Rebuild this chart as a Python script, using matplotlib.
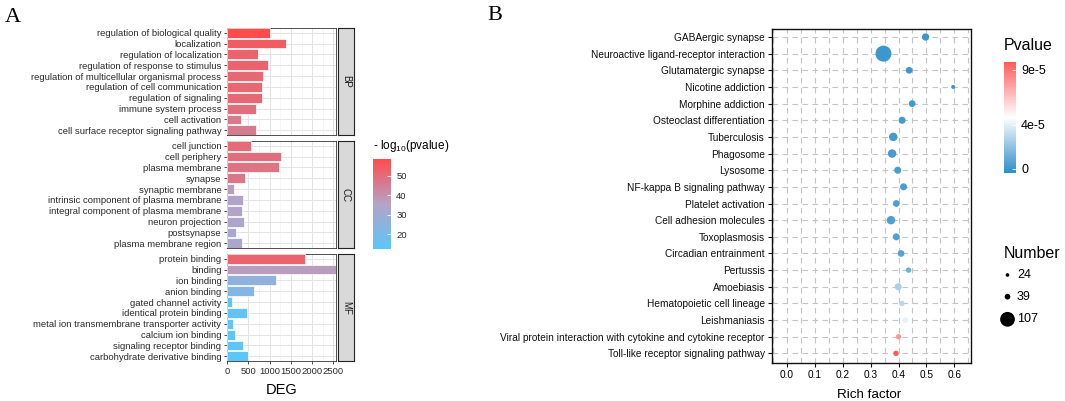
import matplotlib
matplotlib.use("Agg")
import matplotlib.pyplot as plt
import numpy as np
from matplotlib.colors import LinearSegmentedColormap, Normalize
from matplotlib.cm import ScalarMappable
from matplotlib.ticker import MultipleLocator, FormatStrFormatter

plt.rcParams['font.family'] = ['Liberation Sans', 'DejaVu Sans']
plt.rcParams['mathtext.default'] = 'regular'

# ---------------- Data: panel A (GO) ----------------
bp_terms = ["regulation of biological quality", "localization", "regulation of localization",
            "regulation of response to stimulus", "regulation of multicellular organismal process",
            "regulation of cell communication", "regulation of signaling", "immune system process",
            "cell activation", "cell surface receptor signaling pathway"]
bp_deg = [1000, 1375, 735, 953, 836, 828, 828, 672, 336, 680]
bp_logp = [58, 54, 52, 52, 51, 51, 51, 49, 46, 46]

cc_terms = ["cell junction", "cell periphery", "plasma membrane", "synapse", "synaptic membrane",
            "intrinsic component of plasma membrane", "integral component of plasma membrane",
            "neuron projection", "postsynapse", "plasma membrane region"]
cc_deg = [563, 1266, 1227, 422, 164, 383, 359, 398, 219, 352]
cc_logp = [50, 49, 48, 47, 37, 35, 35, 34, 33, 33]

mf_terms = ["protein binding", "binding", "ion binding", "anion binding", "gated channel activity",
            "identical protein binding", "metal ion transmembrane transporter activity",
            "calcium ion binding", "signaling receptor binding", "carbohydrate derivative binding"]
mf_deg = [1828, 2560, 1148, 641, 117, 461, 133, 188, 367, 492]
mf_logp = [52, 37, 26, 23, 14, 15, 14, 14, 14, 13]

facet_labels = ["BP", "CC", "MF"]
go_xticks = [0, 500, 1000, 1500, 2000, 2500]
go_cbar_ticks = [20, 30, 40, 50]

# ---------------- Data: panel B (KEGG) ----------------
kegg_terms = ["GABAergic synapse", "Neuroactive ligand-receptor interaction", "Glutamatergic synapse",
              "Nicotine addiction", "Morphine addiction", "Osteoclast differentiation", "Tuberculosis",
              "Phagosome", "Lysosome", "NF-kappa B signaling pathway", "Platelet activation",
              "Cell adhesion molecules", "Toxoplasmosis", "Circadian entrainment", "Pertussis",
              "Amoebiasis", "Hematopoietic cell lineage", "Leishmaniasis",
              "Viral protein interaction with cytokine and cytokine receptor",
              "Toll-like receptor signaling pathway"]
rich = [0.497, 0.346, 0.438, 0.596, 0.449, 0.413, 0.381, 0.377, 0.397, 0.418,
        0.392, 0.373, 0.392, 0.409, 0.436, 0.399, 0.412, 0.425, 0.400, 0.391]
pvals = [2.1e-8, 1.5e-10, 3.5e-7, 6.2e-7, 9.4e-7, 1.8e-6, 2.2e-6, 2.5e-6, 3.1e-6, 3.6e-6,
         4.2e-6, 4.5e-6, 5.0e-6, 6.0e-6, 1.2e-5, 2.6e-5, 3.0e-5, 4.1e-5, 7.8e-5, 9.7e-5]
numbers = [47, 107, 43, 24, 43, 45, 55, 55, 45, 45, 43, 55, 45, 43, 34, 45, 34, 34, 34, 34]
rich_ticks = [0.0, 0.1, 0.2, 0.3, 0.4, 0.5, 0.6]
p_ticks = [0, 4e-5, 9e-5]
p_tick_labels = ["0", "4e-5", "9e-5"]
size_breaks = [24, 39, 107]

# ---------------- Layout helpers ----------------
W, H = 1065, 401
fig = plt.figure(figsize=(W / 100, H / 100), dpi=100)


def box(x0, y0, x1, y1):
    return [x0 / W, 1 - y1 / H, (x1 - x0) / W, (y1 - y0) / H]


def px(x, y):
    return x / W, 1 - y / H


# ---------------- Panel A ----------------
go_cmap = LinearSegmentedColormap.from_list("go", ["#5BC6FA", "#B4A3C7", "#FF4B4B"])
go_norm = Normalize(12.5, 58.4)

facets = [(bp_terms, bp_deg, bp_logp, 28, 135),
          (cc_terms, cc_deg, cc_logp, 141, 248),
          (mf_terms, mf_deg, mf_logp, 254, 361)]
text_col = "#2B2B2B"
for i, (terms, deg, logp, y0, y1) in enumerate(facets):
    ax = fig.add_axes(box(227, y0, 336, y1))
    n = len(terms)
    pos = np.arange(n)
    ax.barh(pos, deg, height=0.9, color=go_cmap(go_norm(np.array(logp))),
            edgecolor="white", linewidth=0.5, zorder=3)
    ax.set_ylim(n - 1 + 0.43, -0.43)
    ax.set_xlim(0, max(mf_deg))
    ax.set_yticks(pos)
    ax.set_yticklabels(terms, fontsize=6.8, color=text_col)
    ax.set_xticks(go_xticks)
    ax.xaxis.set_minor_locator(MultipleLocator(250))
    ax.set_axisbelow(True)
    ax.grid(which="major", color="#E3E3E3", linewidth=0.7, zorder=0)
    ax.grid(which="minor", axis="x", color="#EFEFEF", linewidth=0.4, zorder=0)
    ax.tick_params(axis="y", length=2.5, width=0.6, color="#333333", pad=1.5)
    ax.tick_params(axis="x", which="minor", length=0)
    for sp in ax.spines.values():
        sp.set_color("#333333")
        sp.set_linewidth(0.6)
    if i < 2:
        ax.tick_params(axis="x", which="major", length=0, labelbottom=False)
    else:
        ax.tick_params(axis="x", which="major", length=2.5, width=0.6, color="#333333",
                       labelsize=6.8, labelcolor=text_col, pad=1.5)
    # strip
    axs = fig.add_axes(box(337.5, y0, 354, y1))
    axs.set_facecolor("#D9D9D9")
    axs.set_xticks([])
    axs.set_yticks([])
    for sp in axs.spines.values():
        sp.set_color("#222222")
        sp.set_linewidth(0.8)
    axs.text(0.5, 0.5, facet_labels[i], rotation=-90, ha="center", va="center",
             fontsize=7, color="#1A1A1A", transform=axs.transAxes)

fig.text(*px(282, 390), "DEG", fontsize=10.5, ha="center", va="center")

cax = fig.add_axes(box(373, 159.3, 390.7, 249))
cb = fig.colorbar(ScalarMappable(norm=go_norm, cmap=go_cmap), cax=cax)
cb.set_ticks(go_cbar_ticks)
cb.outline.set_visible(False)
cax.tick_params(direction="in", color="white", length=3, width=0.6, labelsize=6.8,
                labelcolor=text_col, pad=4)
fig.text(*px(373, 146), r"- log$_{10}$(pvalue)", fontsize=8.5, ha="left", va="center")

# ---------------- Panel B ----------------
p_cmap = LinearSegmentedColormap.from_list("pv", ["#2C8DC9", "#FFFFFF", "#FF5A5A"])
p_norm = Normalize(-0.4e-5, 9.75e-5)


def dot_size(nv):
    d_px = 4 + 12 * (np.asarray(nv, dtype=float) - 24) / 83
    return (d_px * 0.72) ** 2


axb = fig.add_axes(box(771.7, 29, 971, 362.7))
yb = np.arange(len(kegg_terms))
axb.scatter(rich, yb, s=dot_size(numbers), c=pvals, cmap=p_cmap, norm=p_norm,
            edgecolors="none", zorder=3)
axb.set_xlim(-0.055, 0.66)
axb.set_ylim(len(kegg_terms) - 1 + 0.56, -0.48)
axb.set_yticks(yb)
axb.set_yticklabels(kegg_terms, fontsize=7.3, color="#111111")
axb.set_xticks(rich_ticks)
axb.xaxis.set_major_formatter(FormatStrFormatter("%.1f"))
axb.xaxis.set_minor_locator(MultipleLocator(0.05))
axb.set_axisbelow(True)
axb.grid(which="both", color="#C4C4C4", linewidth=0.8, linestyle=(0, (5, 4)), zorder=0)
axb.grid(which="minor", axis="y", visible=False)
axb.tick_params(axis="both", which="major", length=3, width=0.8, color="#111111",
                labelsize=7.3, pad=2)
axb.tick_params(axis="x", which="minor", length=0)
for sp in axb.spines.values():
    sp.set_color("#111111")
    sp.set_linewidth(1.0)
fig.text(*px(869, 395), "Rich factor", fontsize=9.6, ha="center", va="center")

# Pvalue colorbar
fig.text(*px(1004, 45), "Pvalue", fontsize=11.5, ha="left", va="center")
cax2 = fig.add_axes(box(1004, 61.7, 1015.5, 173.3))
cb2 = fig.colorbar(ScalarMappable(norm=p_norm, cmap=p_cmap), cax=cax2)
cb2.set_ticks(p_ticks)
cb2.set_ticklabels(p_tick_labels)
cb2.outline.set_visible(False)
cax2.tick_params(direction="in", color="white", length=3, width=0.6, labelsize=9, pad=4)

# Number legend
fig.text(*px(1004, 253), "Number", fontsize=11.5, ha="left", va="center")
axl = fig.add_axes(box(995, 262, 1065, 332))
axl.set_xlim(995, 1065)
axl.set_ylim(332, 262)
axl.axis("off")
leg_y = [275, 296.7, 319.3]
axl.scatter([1007.5] * 3, leg_y, s=dot_size(size_breaks) * 0.85, c="black", edgecolors="none")
for yy, lab in zip(leg_y, size_breaks):
    axl.text(1017, yy, str(lab), fontsize=9, ha="left", va="center")

# Panel letters
fig.text(*px(13, 18), "A", fontsize=16, family=["Liberation Serif"], ha="center", va="center")
fig.text(*px(495, 16), "B", fontsize=16, family=["Liberation Serif"], ha="center", va="center")

fig.savefig("out.png", dpi=100)
